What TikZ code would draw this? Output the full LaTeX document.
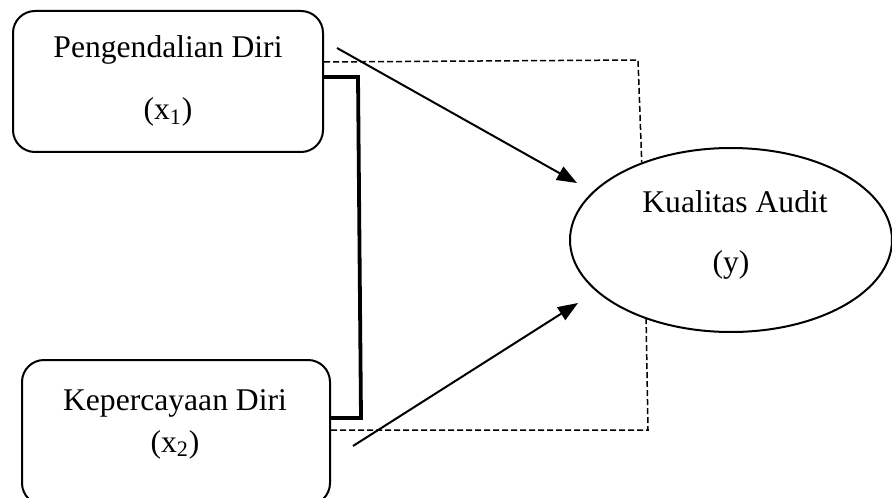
\documentclass[tikz,border=0pt]{standalone}
\usepackage{fontspec}
\setmainfont{Liberation Serif}
\usetikzlibrary{arrows.meta,shapes.geometric}
\begin{document}
\begin{tikzpicture}[x=0.5pt,y=-0.5pt,
  boxshape/.style={draw,line width=1pt,rounded corners=11pt,inner sep=0pt},
  lbl/.style={anchor=base,inner sep=0pt,font=\fontsize{15.8}{19}\selectfont},
  thickline/.style={line width=1.9pt},
  dashline/.style={line width=0.75pt,dash pattern=on 3pt off 1.5pt},
  arr/.style={line width=1pt,-{Triangle[length=10pt,width=7.5pt]}}]
\useasboundingbox (0,0) rectangle (892,497);
\clip (0,0) rectangle (892,497);
% nodes
\node[boxshape,minimum width=155pt,minimum height=70.5pt] (b1) at (168,81.5) {};
\node[boxshape,minimum width=154pt,minimum height=72.5pt] (b2) at (176,432.5) {};
\node[draw,line width=1pt,ellipse,inner sep=0pt,minimum width=161pt,minimum height=92pt] (e) at (731,240) {};
% labels
\node[lbl] (t1) at (168,58) {Pengendalian Diri};
\node[lbl] (t1b) at (168,120) {(x\textsubscript{1})};
\node[lbl] (t2) at (175,410) {Kepercayaan Diri};
\node[lbl] (t2b) at (175,452) {(x\textsubscript{2})};
\node[lbl] (t3) at (735,213) {Kualitas Audit};
\node[lbl] (t3b) at (731,272) {(y)};
% thick bracket
\coordinate (k1) at (358,77);
\coordinate (k2) at (361,418);
\draw[thickline] (b1.east |- 0,77) -- (k1) -- (k2) -- (b2.east |- 0,418);
% dashed lines
\coordinate (d1) at (638,60);
\coordinate (d2) at (648,430);
\draw[dashline] (b1.east |- 0,62) -- (d1) -- (e.139);
\draw[dashline] (b2.east |- 0,430) -- (d2) -- (e.223);
% arrows
\coordinate (a1s) at (337,48);
\coordinate (a1e) at (577,183);
\coordinate (a2s) at (353,446);
\coordinate (a2e) at (578,303);
\draw[arr] (a1s) -- (a1e);
\draw[arr] (a2s) -- (a2e);
\end{tikzpicture}
\end{document}
